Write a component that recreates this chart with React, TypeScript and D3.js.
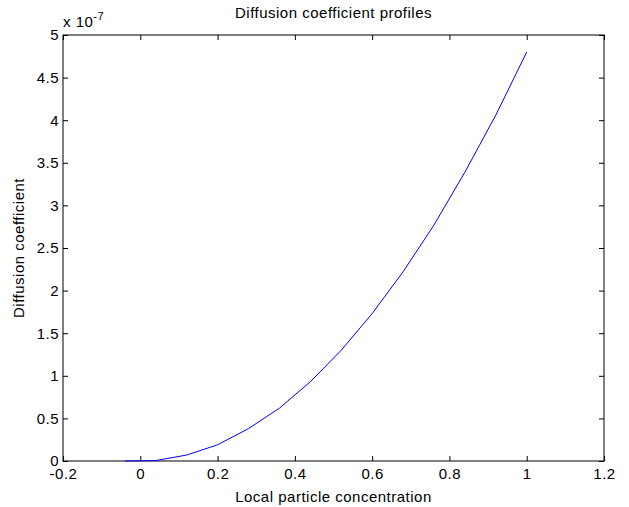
import React, { useEffect, useRef } from "react";
import * as d3 from "d3";

// local particle concentration (x) and diffusion coefficient (in units of 1e-7)
const concentration = [-0.04, 0.04, 0.12, 0.2, 0.28, 0.36, 0.44, 0.52, 0.6, 0.68, 0.76, 0.84, 0.92, 1.0];
const diffusion = [0, 0.005, 0.07, 0.19, 0.38, 0.62, 0.93, 1.3, 1.73, 2.22, 2.77, 3.39, 4.06, 4.8];
const xTicks = [-0.2, 0, 0.2, 0.4, 0.6, 0.8, 1, 1.2];
const yTicks = [0, 0.5, 1, 1.5, 2, 2.5, 3, 3.5, 4, 4.5, 5];

export default function App() {
  const ref = useRef<SVGSVGElement>(null);

  useEffect(() => {
    const width = 629;
    const height = 507;
    const margin = { top: 35, left: 63, bottom: 46, right: 25 };
    const iwidth = width - margin.left - margin.right;
    const iheight = height - margin.top - margin.bottom;

    const root = d3.select(ref.current);
    root.selectAll("*").remove();
    root.attr("width", width).attr("height", height);

    const svg = root.append("g").attr("transform", `translate(${margin.left},${margin.top})`);
    const font = "'Liberation Sans', Arial, sans-serif";
    const fs = 15;
    const ls = "0.5px";

    const x = d3.scaleLinear().domain([-0.2, 1.2]).range([0, iwidth]);
    const y = d3.scaleLinear().domain([0, 5]).range([iheight, 0]);

    svg.append("rect")
      .attr("width", iwidth).attr("height", iheight)
      .attr("fill", "white").attr("stroke", "black").attr("stroke-width", 1);

    const fmt = (d: number) => String(d);

    const axes = [
      { gen: d3.axisBottom(x).tickValues(xTicks).tickFormat(fmt as any).tickPadding(7), t: `translate(0,${iheight})`, labels: true },
      { gen: d3.axisTop(x).tickValues(xTicks).tickFormat(fmt as any), t: "translate(0,0)", labels: false },
      { gen: d3.axisLeft(y).tickValues(yTicks).tickFormat(fmt as any).tickPadding(4), t: "translate(0,0)", labels: true },
      { gen: d3.axisRight(y).tickValues(yTicks).tickFormat(fmt as any), t: `translate(${iwidth},0)`, labels: false },
    ];

    axes.forEach(a => {
      const g = svg.append("g").attr("transform", a.t)
        .call(a.gen.tickSizeInner(-5).tickSizeOuter(0) as any);
      g.select(".domain").remove();
      g.selectAll(".tick line").attr("stroke", "black");
      g.selectAll("text")
        .attr("font-family", font).attr("font-size", fs).attr("fill", "black")
        .attr("letter-spacing", ls)
        .style("display", a.labels ? null : "none");
    });

    const line = d3.line<number>()
      .x((_, i) => x(concentration[i]))
      .y(d => y(d));

    svg.append("path")
      .datum(diffusion)
      .attr("fill", "none")
      .attr("stroke", "#0000ff")
      .attr("stroke-width", 1)
      .attr("d", line);

    // exponent label
    const ex = svg.append("text")
      .attr("x", 0).attr("y", -8)
      .attr("font-family", font).attr("font-size", fs).attr("fill", "black")
      .attr("letter-spacing", ls);
    ex.append("tspan").text("x 10");
    ex.append("tspan").attr("dy", -7).attr("font-size", 11).text("-7");

    svg.append("text")
      .attr("x", iwidth / 2).attr("y", -17)
      .attr("text-anchor", "middle")
      .attr("font-family", font).attr("font-size", fs).attr("fill", "black")
      .attr("letter-spacing", ls)
      .text("Diffusion coefficient profiles");

    svg.append("text")
      .attr("x", iwidth / 2).attr("y", iheight + 41)
      .attr("text-anchor", "middle")
      .attr("font-family", font).attr("font-size", fs).attr("fill", "black")
      .attr("letter-spacing", ls)
      .text("Local particle concentration");

    svg.append("text")
      .attr("transform", `translate(-39,${iheight / 2}) rotate(-90)`)
      .attr("text-anchor", "middle")
      .attr("font-family", font).attr("font-size", fs).attr("fill", "black")
      .attr("letter-spacing", ls)
      .text("Diffusion coefficient");
  }, []);

  return (
    <svg ref={ref} style={{ position: "absolute", left: 0, top: 0, background: "white" }}></svg>
  );
}
